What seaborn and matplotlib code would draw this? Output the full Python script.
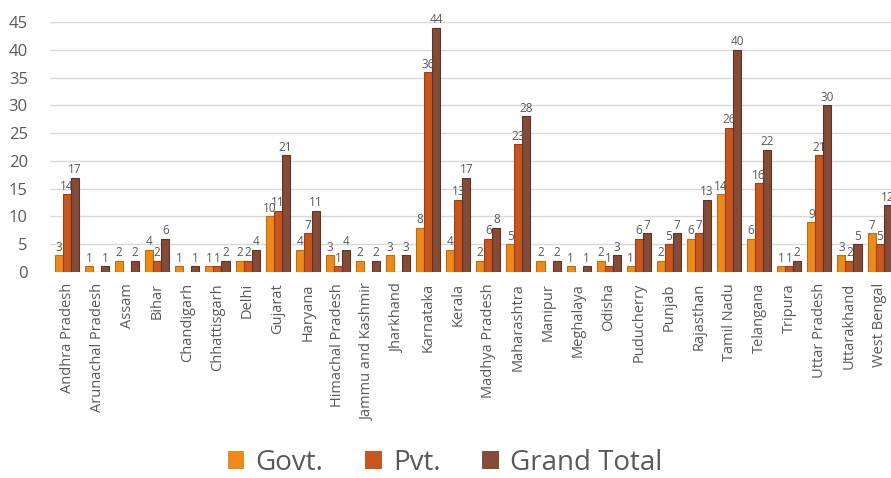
import pandas as pd
import numpy as np
import matplotlib
matplotlib.use('Agg')
import matplotlib.pyplot as plt
import seaborn as sns

states = ['Andhra Pradesh', 'Arunachal Pradesh', 'Assam', 'Bihar', 'Chandigarh',
          'Chhattisgarh', 'Delhi', 'Gujarat', 'Haryana', 'Himachal Pradesh',
          'Jammu and Kashmir', 'Jharkhand', 'Karnataka', 'Kerala', 'Madhya Pradesh',
          'Maharashtra', 'Manipur', 'Meghalaya', 'Odisha', 'Puducherry', 'Punjab',
          'Rajasthan', 'Tamil Nadu', 'Telangana', 'Tripura', 'Uttar Pradesh',
          'Uttarakhand', 'West Bengal']
govt = [3, 1, 2, 4, 1, 1, 2, 10, 4, 3, 2, 3, 8, 4, 2, 5, 2, 1, 2, 1, 2, 6, 14, 6, 1, 9, 3, 7]
pvt = [14, 0, 0, 2, 0, 1, 2, 11, 7, 1, 0, 0, 36, 13, 6, 23, 0, 0, 1, 6, 5, 7, 26, 16, 1, 21, 2, 5]
total = [17, 1, 2, 6, 1, 2, 4, 21, 11, 4, 2, 3, 44, 17, 8, 28, 2, 1, 3, 7, 7, 13, 40, 22, 2, 30, 5, 12]

series = ['Govt.', 'Pvt.', 'Grand Total']
colors = ['#EC8A1C', '#C9561E', '#844C38']
edges = ['#C06C0C', '#9C3F12', '#5E3425']

df = pd.DataFrame({'State': states, 'Govt.': govt, 'Pvt.': pvt, 'Grand Total': total})
long = df.melt(id_vars='State', var_name='Type', value_name='Count')

sns.set_style('white')
plt.rcParams['font.family'] = ['Open Sans', 'DejaVu Sans']

fig = plt.figure(figsize=(8.91, 4.78), dpi=100)
ax = fig.add_axes([50 / 891, 206 / 478, 841 / 891, 250 / 478])

sns.barplot(data=long, x='State', y='Count', hue='Type', order=states,
            hue_order=series, palette=colors, width=0.8, saturation=1,
            ax=ax, legend=True)

for cont, ec, vals in zip(ax.containers, edges, [govt, pvt, total]):
    for b in cont:
        b.set_edgecolor(ec)
        b.set_linewidth(0.8)
    labels = [str(v) if v > 0 else '' for v in vals]
    ax.bar_label(cont, labels=labels, fontsize=8.5, color='#595959', padding=1)

ax.set_ylim(0, 45)
ax.set_yticks(range(0, 50, 5))
ax.set_xlim(-0.565, 27.38)
ax.yaxis.grid(True, color='#D9D9D9', linewidth=1)
ax.set_axisbelow(True)
for s in ax.spines.values():
    s.set_visible(False)
ax.set_xlabel('')
ax.set_ylabel('')
ax.tick_params(axis='y', labelsize=12, labelcolor='#595959', length=0, pad=16)
ax.tick_params(axis='x', labelsize=10.5, labelcolor='#595959', length=0, pad=8)
plt.setp(ax.get_xticklabels(), rotation=90)

handles, lbls = ax.get_legend_handles_labels()
for h in handles:
    h.set_edgecolor('none')
ax.legend(handles, lbls, loc='center', bbox_to_anchor=(445 / 891, 15 / 478),
          bbox_transform=fig.transFigure, ncol=3, frameon=False, fontsize=20,
          handlelength=0.6, handleheight=0.6, handletextpad=0.4, columnspacing=1.5,
          labelcolor='#595959')

fig.savefig('out.png', dpi=100)
